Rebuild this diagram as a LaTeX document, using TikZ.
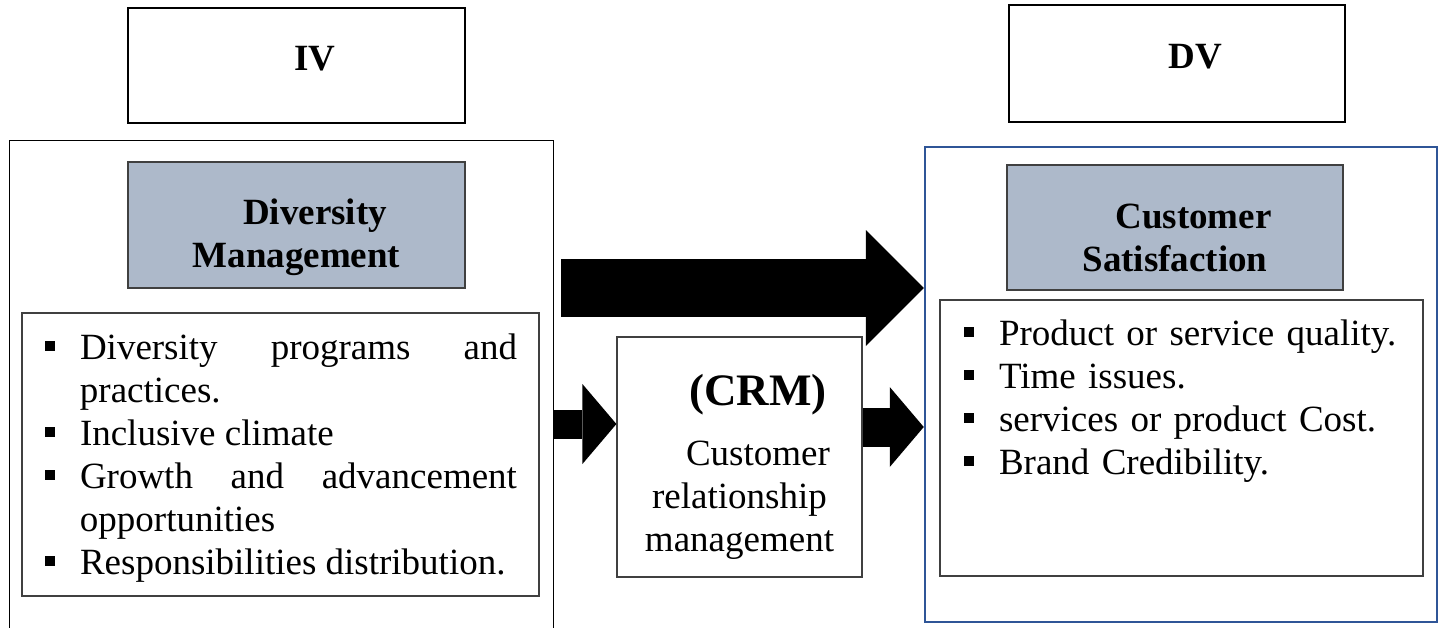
\documentclass[tikz,border=0pt]{standalone}
\usepackage{fontspec}
\setmainfont{Liberation Serif}
\usetikzlibrary{arrows.meta, positioning}
\definecolor{headfill}{HTML}{ADB9CA}
\definecolor{frameblue}{HTML}{2F5597}
\definecolor{edge}{HTML}{404040}
\newcommand{\bodyfont}{\fontsize{37}{43}\selectfont}
\newcommand{\crmfont}{\fontsize{45}{50}\selectfont\bfseries}
\newcommand{\ind}{\hspace*{37pt}}
\newcommand{\bitem}[1]{\noindent\hangindent=36pt\hangafter=1%
  \makebox[36pt][l]{\hspace{1pt}\raisebox{8.5pt}{\rule{9.5pt}{9.5pt}}}#1\par}
\tikzset{
  varBox/.style = {rectangle, draw=black, line width=1.5pt, fill=white,
    inner sep=0pt, font=\bodyfont\bfseries},
  frameBox/.style = {rectangle, draw=black, line width=1pt, inner sep=0pt},
  headBox/.style = {rectangle, draw=edge, line width=1.5pt, fill=headfill,
    inner sep=0pt, align=center, font=\bodyfont\bfseries},
  listBox/.style = {rectangle, draw=edge, line width=1.5pt, fill=white,
    inner ysep=0pt, font=\bodyfont},
  crmBox/.style = {rectangle, draw=edge, line width=1.2pt, fill=white,
    inner ysep=0pt, inner xsep=7pt, align=center, font=\bodyfont},
  bigArrow/.style = {draw=black, line width=58pt,
    -{Triangle[length=58pt, width=116pt, line width=0pt]}},
  smallArrow/.style = {draw=black, line width=#1,
    -{Triangle[length=34pt, width=80pt, line width=0pt]}},
}
\begin{document}
\begin{tikzpicture}[x=1pt, y=-1pt]
\clip (0,0) rectangle (1440,627);

% IV side
\node[varBox, minimum width=337pt, text height=62pt, text depth=53pt] (iv) at (296.5,65.5) {\ind IV};
\node[frameBox, minimum width=544pt, minimum height=510pt] (ivframe) at (281,395) {};
\node[headBox, text width=337pt, text height=62pt, text depth=64pt] (ivhead) at (296.5,225) {\ind Diversity\\Management};
\node[listBox, text width=473pt, inner xsep=22pt, text height=46pt, text depth=237pt, align=justify] (ivlist) at (280.5,454.5)
  {\bitem{Diversity programs and\linebreak practices.}\bitem{Inclusive climate}\bitem{Growth and advancement\linebreak opportunities}\bitem{Responsibilities distribution.}};

% DV side
\node[varBox, minimum width=336pt, text height=63pt, text depth=54pt] (dv) at (1177,63.5) {\ind DV};
\node[frameBox, draw=frameblue, line width=2.5pt, minimum width=512pt, minimum height=475pt] (dvframe) at (1181,384.5) {};
\node[headBox, text width=336pt, text height=63pt, text depth=62pt] (dvhead) at (1175,227.5) {\ind Customer\\Satisfaction};
\node[listBox, text width=437pt, inner xsep=23pt, text height=45pt, text depth=231pt, align=left] (dvlist) at (1181.5,438)
  {\bitem{Product or service quality.}\bitem{Time issues.}\bitem{services or product Cost.}\bitem{Brand Credibility.}};

% mediator
\node[crmBox, text width=231pt, text height=68pt, text depth=172pt] (crm) at (739.5,457)
  {{\crmfont\ind (CRM)\par}\vspace{17pt}\ind Customer relationship management};

% arrows
\coordinate (bigtail) at (561,288);
\draw[bigArrow] (bigtail) -- (dvframe.west |- bigtail);
\draw[smallArrow=29pt] (ivframe.east |- 0,424) -- (crm.west |- 0,424);
\draw[smallArrow=39pt] (crm.east |- 0,427) -- (dvframe.west |- 0,427);

\end{tikzpicture}
\end{document}
